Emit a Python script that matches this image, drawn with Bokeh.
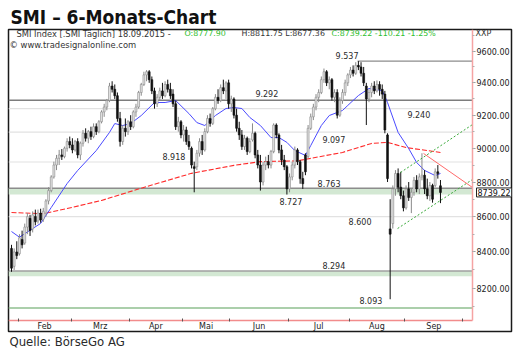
import numpy as np
import pandas as pd
from bokeh.plotting import figure
from bokeh.models import (Range1d, FixedTicker, NumeralTickFormatter, Label, BoxAnnotation,
                          ColumnDataSource, Title)
from bokeh.core.properties import value
from bokeh.embed import file_html
from bokeh.resources import INLINE

# ---------------- data ----------------
title = "SMI – 6-Monats-Chart"
source_note = "Quelle: BörseGo AG"
instrument = "SMI Index [.SMI  Täglich]"
first_day, chart_end = "2015-01-28", "2015-10-30"
holidays = ["2015-04-03", "2015-04-06", "2015-05-01", "2015-05-14", "2015-05-25"]
month_labels = ["Feb", "Mrz", "Apr", "Mai", "Jun", "Jul", "Aug", "Sep"]

opens = [8420, 8320, 8400, 8390, 8470, 8450, 8540, 8590, 8530, 8600, 8575, 8620, 8585, 8620, 8690,
         8750, 8830, 8900, 8940, 8960, 8950, 9000, 9040, 9020, 8990, 9040, 8960, 9030, 9090, 9060,
         9100, 9070, 9130, 9100, 9160, 9220, 9250, 9290, 9380, 9360, 9320, 9180, 9040, 9120, 9100,
         9160, 9130, 9220, 9250, 9340, 9390, 9450, 9470, 9420, 9350, 9270, 9310, 9350, 9320, 9390,
         9360, 9330, 9270, 9130, 9160, 9080, 9110, 9040, 9000, 8890, 8890, 8970, 9040, 8990, 9100,
         9180, 9150, 9240, 9310, 9290, 9370, 9350, 9400, 9270, 9300, 9200, 9120, 9080, 9010, 9060,
         8980, 9050, 9090, 8960, 8900, 8800, 8900, 8920, 8900, 8980, 9140, 9080, 8990, 8930, 8890,
         8760, 8830, 8900, 8990, 8920, 8820, 8960, 8950, 9120, 9190, 9250, 9310, 9340, 9420, 9470,
         9400, 9420, 9310, 9340, 9200, 9290, 9340, 9400, 9450, 9480, 9460, 9510, 9500, 9460, 9380,
         9300, 9340, 9380, 9350, 9390, 9360, 9330, 9080, 8530, 8560, 8760, 8850, 8770, 8720, 8650,
         8760, 8710, 8740, 8810, 8760, 8830, 8840, 8760, 8720, 8780, 8780, 8860, 8777.90]
highs = [8440, 8420, 8460, 8500, 8520, 8560, 8620, 8610, 8630, 8640, 8640, 8645, 8650, 8700, 8770,
         8840, 8920, 8960, 8990, 8995, 9010, 9060, 9070, 9060, 9050, 9060, 9040, 9110, 9120, 9110,
         9130, 9150, 9150, 9170, 9230, 9270, 9300, 9400, 9410, 9390, 9340, 9220, 9140, 9180, 9170,
         9200, 9230, 9270, 9350, 9400, 9470, 9480, 9480, 9440, 9370, 9330, 9370, 9400, 9410, 9420,
         9400, 9360, 9290, 9190, 9170, 9140, 9130, 9080, 9010, 8920, 8990, 9060, 9080, 9120, 9200,
         9210, 9250, 9330, 9360, 9390, 9420, 9410, 9420, 9320, 9310, 9240, 9160, 9110, 9080, 9070,
         9060, 9150, 9100, 8990, 8960, 8920, 8950, 8960, 8990, 9150, 9150, 9090, 9020, 8960, 8900,
         8850, 8920, 9010, 9000, 8930, 8860, 8970, 9140, 9210, 9270, 9330, 9360, 9440, 9490, 9480,
         9440, 9430, 9360, 9360, 9310, 9360, 9420, 9460, 9500, 9510, 9530, 9537, 9530, 9500, 9400,
         9360, 9400, 9410, 9415, 9410, 9390, 9350, 9090, 8700, 8780, 8870, 8880, 8860, 8750, 8780,
         8800, 8760, 8830, 8840, 8850, 8970, 8870, 8820, 8800, 8790, 8880, 8900, 8811.75]
lows = [8290, 8300, 8360, 8380, 8420, 8440, 8500, 8490, 8510, 8550, 8560, 8565, 8570, 8600, 8670,
        8740, 8820, 8870, 8900, 8930, 8940, 8980, 9000, 8970, 8980, 8940, 8930, 9010, 9040, 9030,
        9050, 9060, 9080, 9090, 9150, 9190, 9230, 9280, 9340, 9300, 9160, 9010, 9020, 9070, 9080,
        9110, 9120, 9190, 9240, 9320, 9380, 9410, 9400, 9330, 9240, 9250, 9290, 9300, 9310, 9340,
        9300, 9250, 9110, 9100, 9060, 9040, 9020, 8990, 8880, 8740, 8870, 8950, 8960, 8980, 9090,
        9130, 9140, 9230, 9270, 9280, 9330, 9300, 9240, 9220, 9180, 9100, 9050, 8990, 8990, 8960,
        8970, 9040, 8940, 8880, 8750, 8780, 8870, 8880, 8880, 8970, 9060, 8970, 8900, 8870, 8727,
        8740, 8810, 8880, 8900, 8790, 8760, 8840, 8940, 9110, 9170, 9230, 9280, 9330, 9400, 9380,
        9360, 9290, 9280, 9180, 9190, 9270, 9320, 9380, 9430, 9440, 9450, 9480, 9440, 9380, 9140,
        9280, 9310, 9330, 9340, 9320, 9300, 9090, 8800, 8140, 8532, 8720, 8740, 8700, 8630, 8640,
        8690, 8620, 8720, 8740, 8730, 8810, 8730, 8700, 8690, 8680, 8770, 8820, 8677.36]
closes = [8310, 8400, 8380, 8480, 8440, 8540, 8600, 8520, 8610, 8570, 8620, 8580, 8630, 8690, 8750,
          8830, 8900, 8940, 8960, 8950, 9000, 9040, 9020, 8990, 9040, 8960, 9030, 9090, 9060, 9100,
          9070, 9130, 9100, 9160, 9220, 9250, 9290, 9380, 9360, 9320, 9180, 9040, 9120, 9100, 9160,
          9130, 9220, 9250, 9340, 9390, 9450, 9470, 9420, 9350, 9270, 9310, 9350, 9320, 9390, 9360,
          9320, 9270, 9130, 9160, 9080, 9110, 9040, 9010, 8900, 8880, 8970, 9040, 8990, 9100, 9180,
          9150, 9240, 9310, 9290, 9370, 9350, 9400, 9270, 9300, 9200, 9120, 9080, 9010, 9060, 8980,
          9040, 9090, 8960, 8900, 8800, 8900, 8920, 8900, 8980, 9140, 9080, 8990, 8930, 8890, 8760,
          8830, 8900, 8990, 8920, 8820, 8790, 8860, 9120, 9190, 9250, 9310, 9340, 9420, 9470, 9400,
          9420, 9310, 9340, 9200, 9290, 9340, 9400, 9450, 9480, 9460, 9510, 9500, 9460, 9400, 9300,
          9340, 9380, 9350, 9390, 9360, 9330, 9110, 8820, 8500, 8760, 8850, 8770, 8720, 8650, 8760,
          8710, 8740, 8810, 8760, 8830, 8840, 8760, 8720, 8780, 8700, 8860, 8849.43, 8739.22]

# moving averages (trading-day index, value)
ma_blue_day = [0, 3, 8, 11, 15, 21, 25, 32, 37, 39, 42, 45, 49, 54, 58, 62, 67, 70, 73, 77, 81, 84,
               87, 90, 94, 98, 101, 104, 107, 111, 113, 117, 120, 125, 127, 131, 135, 140, 142, 146,
               150, 153, 156, 160, 162]
ma_blue_val = [8515, 8483, 8532, 8561, 8652, 8791, 8868, 8986, 9095, 9149, 9137, 9149, 9198, 9278,
               9278, 9290, 9210, 9155, 9137, 9198, 9241, 9247, 9241, 9186, 9137, 9064, 9064, 9035,
               8986, 8957, 9016, 9137, 9198, 9229, 9260, 9321, 9365, 9352, 9278, 9095, 8998, 8915,
               8868, 8838, 8850]
ma_red_day = [0, 12, 21, 34, 49, 68, 84, 94, 108, 125, 136, 142, 149, 162]
ma_red_val = [8623, 8617, 8646, 8693, 8764, 8851, 8898, 8920, 8925, 8975, 9029, 9035, 9004, 8975]

# trend lines (start day, start value, end day, end value)
trend_up_hi = (146.9, 8856, 174.1, 9143)
trend_up_lo = (145.8, 8532, 174.1, 8815)
trend_down = (155.6, 8969, 174.1, 8768)

# support / resistance levels
level_vals = [9537, 9292, 9240, 9097, 8918, 8763, 8727, 8600, 8294, 8093]
bands = [(8727, 8763), (8265, 8294)]

# ---------------- layout / style ----------------
n = len(closes)
cal = pd.bdate_range(first_day, chart_end, freq="C", holidays=holidays)
dates = cal[:n]
x_lo, x_edge, x_hi = -1.133, 174.09, 188.82      # frame left, price-scale line, frame right
y_lo, y_edge, y_hi = 7967.2, 8025.8, 9739.6      # frame bottom, time-axis line, frame top

FONT = "DejaVu Sans"
COND = "DejaVu Sans Condensed"

p = figure(width=526, height=363, x_range=Range1d(x_lo, x_hi), y_range=Range1d(y_lo, y_hi),
           y_axis_type="log", y_axis_location="right", output_backend="svg",
           toolbar_location=None, min_border_left=8, min_border_right=15,
           min_border_top=29, min_border_bottom=32)
p.grid.visible = False
p.outline_line_color = "#1a1a1a"
p.outline_line_width = 1.5
p.background_fill_color = "white"
p.border_fill_color = "white"

p.title.text = title
p.title.text_font = COND
p.title.text_font_size = "19px"
p.title.text_font_style = "bold"
p.title.text_color = "#111111"
p.title.offset = 2
p.title.standoff = 4
p.add_layout(Title(text=source_note, align="left", text_font=COND, text_font_size="13px",
                   text_font_style="normal", text_color="#2a2a2a", offset=1, standoff=4,
                   vertical_align="top"), "below")

# level lines
level_style = {9537: ("#8c8c8c", 1.2), 9292: ("#7d7d7d", 1.5), 9240: ("#e2e2e2", 1.2),
               9097: ("#e2e2e2", 1.2), 8918: ("#e2e2e2", 1.2), 8763: ("#8c8c8c", 1.5),
               8600: ("#e2e2e2", 1.2), 8294: ("#a0a0a0", 1.5), 8093: ("#8fbf8f", 1.5)}
for lo, hi in bands:
    p.add_layout(BoxAnnotation(left=x_lo, right=x_edge, bottom=lo, top=hi, fill_color="#d3e8d3",
                               fill_alpha=1.0, line_color=None, level="underlay"))
for v in level_vals:
    if v not in level_style:
        continue
    col, w = level_style[v]
    x0 = 130.7 if v == 9537 else x_lo
    p.segment(x0=[x0], y0=[v], x1=[x_edge], y1=[v], line_color=col, line_width=w)

# level labels
lab_x = [122.4, 92.1, 149.5, 117.4, 57.0, 115.6, 101.2, 127.3, 117.4, 131.4]
lab_dy = [-6, -7, 6, 7, -5, -5, 7, 5, -6, -7]
lab_src = ColumnDataSource(dict(x=lab_x, y=level_vals,
                                t=[f"{v:,}".replace(",", ".") for v in level_vals], dy=lab_dy))
p.text(x="x", y="y", text="t", y_offset="dy", source=lab_src, text_font=value(FONT),
       text_font_size="8px", text_color="#2a2a2a", text_baseline="middle", text_align="left")

# moving averages
p.line(ma_red_day, ma_red_val, line_color="#ff2a2a", line_width=1.1, line_dash="5 2")
p.line(ma_blue_day, ma_blue_val, line_color="#4a4aff", line_width=1.0)

# candles
df = pd.DataFrame(dict(i=np.arange(n), o=opens, h=highs, l=lows, c=closes))
df["top"] = df[["o", "c"]].max(axis=1)
df["bot"] = df[["o", "c"]].min(axis=1)
up = df.c >= df.o
su, sd = ColumnDataSource(df[up]), ColumnDataSource(df[~up])
p.segment("i", "h", "i", "l", source=su, line_color="#8a8a8a", line_width=1)
p.segment("i", "h", "i", "l", source=sd, line_color="#111111", line_width=1)
p.vbar(x="i", width=0.72, top="top", bottom="bot", source=su, fill_color="#e4e4e4",
       line_color="#8a8a8a", line_width=0.6)
p.vbar(x="i", width=0.72, top="top", bottom="bot", source=sd, fill_color="#111111",
       line_color="#111111", line_width=0.6)

# trend lines
for (a, av, b, bv), col, dash in [(trend_up_hi, "#3aaa3a", "2 2"), (trend_up_lo, "#3aaa3a", "2 2"),
                                  (trend_down, "#ff6a6a", "solid")]:
    p.line([a, b], [av, bv], line_color=col, line_width=1, line_dash=dash)

# time axis (drawn on the chart's own baseline inside the box)
month_first = [int(np.searchsorted(cal, d)) for d in
               pd.date_range("2015-02-01", "2015-10-01", freq="MS")]
bounds = [m - 0.5 for m in month_first]
centers = [(a + b) / 2 for a, b in zip(bounds[:-1], bounds[1:])]
xa = p.xaxis[0]
xa.fixed_location = y_edge
xa.bounds = (x_lo, x_edge)
xa.ticker = FixedTicker(ticks=centers, minor_ticks=bounds)
xa.major_label_overrides = {c: m for c, m in zip(centers, month_labels)}
xa.major_tick_in = 0
xa.major_tick_out = 0
xa.minor_tick_in = 2
xa.minor_tick_out = 1
xa.minor_tick_line_color = "#555555"
xa.axis_line_color = "#f28c8c"
xa.axis_line_width = 1.5
xa.major_label_standoff = 1
xa.major_label_text_font = FONT
xa.major_label_text_font_size = "8px"
xa.major_label_text_color = "#222222"

# price scale
ya = p.yaxis[0]
ya.fixed_location = x_edge
ya.bounds = (y_edge, y_hi)
ya.ticker = FixedTicker(ticks=list(range(8200, 9601, 200)),
                        minor_ticks=list(range(8100, 9701, 100)))
ya.formatter = NumeralTickFormatter(format="0.00")
ya.axis_line_color = "#f5a3a3"
ya.axis_line_width = 1.5
ya.major_tick_in = 0
ya.major_tick_out = 3
ya.minor_tick_in = 0
ya.minor_tick_out = 2
ya.major_tick_line_color = "#909090"
ya.minor_tick_line_color = "#b0b0b0"
ya.major_label_standoff = 1
ya.major_label_text_font = FONT
ya.major_label_text_font_size = "8px"
ya.major_label_text_color = "#222222"

# last price tag
p.add_layout(Label(x=476, y=closes[-1], x_units="canvas", y_units="data",
                   text=f"{closes[-1]:.2f}", text_font=FONT, text_font_size="8px",
                   text_baseline="middle", text_color="#111111", border_line_color="#222222",
                   background_fill_color="white", padding=1))

# header texts
chg = closes[-1] - closes[-2]
pct = chg / closes[-2] * 100
hdr = [(f"{instrument} {dates[-1]:%d.%m.%Y} -", "#333333", 16, "8.3px"),
       (f"O:{opens[-1]:.2f}", "#2dbd2d", 184, "7.9px"),
       (f"H:{highs[-1]:.2f} L:{lows[-1]:.2f}", "#333333", 241, "7.9px"),
       (f"C:{closes[-1]:.2f} {chg:.2f} {pct:.2f}%", "#2dbd2d", 331, "7.9px")]
for t, col, x, fs in hdr:
    p.add_layout(Label(x=x, y=33, x_units="canvas", y_units="canvas", text=t, text_font=FONT,
                       text_font_size=fs, text_color=col, text_baseline="middle"))
p.add_layout(Label(x=9, y=44, x_units="canvas", y_units="canvas",
                   text="© www.tradesignalonline.com", text_font=FONT, text_font_size="8.4px",
                   text_color="#333333", text_baseline="middle"))
p.add_layout(Label(x=475, y=33, x_units="canvas", y_units="canvas", text="XXP", text_font=FONT,
                   text_font_size="8px", text_color="#333333", text_baseline="middle"))

open("out.html", "w").write(file_html(p, INLINE))
